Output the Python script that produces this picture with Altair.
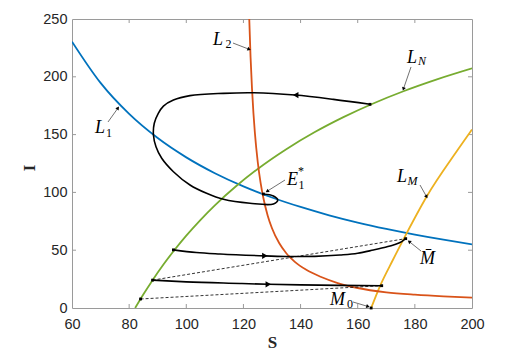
import math
import pandas as pd
import altair as alt

# ---------------- data ----------------
x_ticks = [60, 80, 100, 120, 140, 160, 180, 200]
y_ticks = [0, 50, 100, 150, 200, 250]
x_inner = [80, 100, 120, 140, 160, 180]
y_inner = [50, 100, 150, 200]

# L1 (blue)
L1_S = [60, 70, 80, 90, 100, 110, 120, 130, 140, 150, 160, 170, 180, 190, 200]
L1_I = [230.4, 194.7, 167.9, 147.0, 130.3, 116.6, 105.2, 95.6, 87.4, 80.2, 73.9, 68.4, 63.5, 59.1, 55.1]
# L2 (red-orange)
L2_S = [122.0, 122.5, 123.0, 123.5, 124.0, 125.0, 126.0, 127.0, 128.5, 130.0, 132.5, 135.0, 138.0,
        142.0, 147.0, 153.0, 160.0, 170.0, 180.0, 190.0, 200.0]
L2_I = [253.0, 216.9, 189.8, 168.7, 151.8, 126.5, 108.4, 94.9, 79.9, 69.0, 56.2, 47.4, 39.9,
        33.0, 27.0, 21.6, 17.3, 13.6, 11.5, 10.0, 8.9]
# L_N (green)
LN_S = [82.1, 85, 88.2, 92, 96, 100, 105, 110, 117.6, 125, 135, 145, 155, 165, 176, 188, 200]
LN_I = [0, 11.9, 24.1, 37.6, 50.6, 62.6, 76.3, 88.8, 105.7, 120.3, 137.4, 152.2, 165.1, 176.5, 187.5, 198.0, 207.3]
# L_M (yellow)
LM_S = [164.7, 167.8, 172.3, 177.1, 184.1, 195.2, 200]
LM_I = [0, 19, 41.5, 64.6, 96.3, 137.5, 154.5]

# spiral trajectory towards E1*
loop_S = [164.3, 151.5, 138.05, 123.5, 113.0, 101.3, 95.5, 92.0, 90.2, 88.8, 88.5, 89.4, 91.4, 95.5,
          101.3, 107.1, 113.0, 122.3, 130.5, 132.0, 130.5, 127.0]
loop_I = [176.2, 180.5, 184.2, 186.2, 185.7, 183.7, 179.9, 174.7, 168.4, 159.8, 149.6, 139.5, 129.5, 117.9,
          106.4, 99.2, 94.0, 90.6, 90.0, 93.4, 96.9, 98.6]
# upper impulsive trajectory
trA_S = [95.5, 103.5, 111.8, 127.5, 136.3, 145, 153.8, 160, 165.5, 170, 172.5, 175.4, 176.8]
trA_I = [50.3, 48.0, 46.7, 45.1, 44.5, 44.7, 45.8, 47.3, 50.2, 52.8, 54.5, 57.4, 60]
# lower impulsive trajectory
trB_S = [88.2, 100, 118.8, 128.7, 140, 153.8, 168.4]
trB_I = [24.1, 22.6, 21.2, 20.5, 20, 19.6, 19.3]
# dashed jumps
dash_S = [176.8, 88.2, 168.4, 84.0]
dash_I = [60, 24.1, 19.3, 7.8]
dash_seg = ["a", "a", "b", "b"]

# marked points
pt_S = [164.3, 127.0, 95.5, 88.2, 84.0, 176.8, 168.4, 164.7]
pt_I = [176.2, 98.6, 50.3, 24.1, 7.8, 60, 19.3, 0]

# direction arrowheads on trajectories
dir_S = [138.3, 127.5, 128.7]
dir_I = [184.2, 45.1, 20.5]
dir_D = ["left", "right", "right"]

# annotation arrows (from -> tip)
ann_S1 = [72.6, 116.35, 178.65, 134.55, 181.8, 182.15, 158.35]
ann_I1 = [160.9, 229.2, 208.5, 110.7, 106.4, 49.3, 5.2]
ann_S2 = [76.1, 122.0, 176.0, 128.3, 184.1, 178.0, 163.6]
ann_I2 = [173.0, 223.8, 189.5, 101.0, 96.3, 57.5, 1.3]

# label texts
main_txt = ["L", "L", "L", "E", "L", "M\u0304", "M"]
main_S = [68.05, 109.35, 177.25, 135.25, 173.75, 181.8, 150.3]
main_I = [151.4, 227.5, 211.9, 106.4, 109.0, 38.1, 2.6]
subu_txt = ["1", "2", "1", "*", "0"]
subu_S = [71.9, 113.7, 139.3, 139.1, 156.25]
subu_I = [147.9, 225.3, 103.2, 114.8, 0.0]
subi_txt = ["N", "M"]
subi_S = [181.1, 177.4]
subi_I = [210.2, 106.4]

# ---------------- chart ----------------
W, H = 400, 289
SCALE_X = alt.Scale(domain=[60, 200], nice=False, zero=False)
SCALE_Y = alt.Scale(domain=[0, 250], nice=False, zero=False)
AX_COL = "#262626"
XA = alt.Axis(values=x_ticks, tickSize=0, domain=False, grid=False, labelFlush=False,
              labelFont="Liberation Sans", labelFontSize=14.5, labelColor=AX_COL, labelPadding=9,
              titleFont="Liberation Serif", titleFontWeight="bold", titleFontSize=17,
              titleColor=AX_COL, titleX=W / 2, titleY=34, titleBaseline="middle")
YA = alt.Axis(values=y_ticks, tickSize=0, domain=False, grid=False, labelFlush=False,
              labelFont="Liberation Sans", labelFontSize=14.5, labelColor=AX_COL, labelPadding=5,
              titleFont="Liberation Serif", titleFontWeight="bold", titleFontSize=17,
              titleColor=AX_COL, titleX=-43, titleY=H / 2 + 4, titleBaseline="middle",
              titleAlign="center", titleAngle=270)


def X(f="S"):
    return alt.X(f"{f}:Q", scale=SCALE_X, axis=XA, title="S")


def Y(f="I"):
    return alt.Y(f"{f}:Q", scale=SCALE_Y, axis=YA, title="I")


def df_xy(S, I):
    return pd.DataFrame({"S": S, "I": I, "o": list(range(len(S)))})


TICK_COL = "#9a9a9a"
xt = pd.DataFrame({"S": x_inner})
yt = pd.DataFrame({"I": y_inner})
ticks = alt.layer(
    alt.Chart(xt).mark_rule(color=TICK_COL, strokeWidth=1).encode(x=X(), y=alt.value(H), y2=alt.value(H - 4)),
    alt.Chart(xt).mark_rule(color=TICK_COL, strokeWidth=1).encode(x=X(), y=alt.value(0), y2=alt.value(4)),
    alt.Chart(yt).mark_rule(color=TICK_COL, strokeWidth=1).encode(y=Y(), x=alt.value(0), x2=alt.value(4)),
    alt.Chart(yt).mark_rule(color=TICK_COL, strokeWidth=1).encode(y=Y(), x=alt.value(W), x2=alt.value(W - 4)),
)


def curve(S, I, color):
    return alt.Chart(df_xy(S, I)).mark_line(color=color, strokeWidth=1.8, interpolate="monotone", clip=True).encode(
        x=X(), y=Y(), order="o:Q")


curves = alt.layer(
    curve(L1_S, L1_I, "#0072BD"),
    curve(LN_S, LN_I, "#77AC30"),
    curve(LM_S, LM_I, "#EDB120"),
    curve(L2_S, L2_I, "#D95319"),
)

dash_df = pd.DataFrame({"S": dash_S, "I": dash_I, "seg": dash_seg})
dashed = alt.Chart(dash_df).mark_line(color="black", strokeWidth=0.8, strokeDash=[3, 2]).encode(
    x=X(), y=Y(), detail="seg:N")

traj = alt.layer(
    alt.Chart(df_xy(loop_S, loop_I)).mark_line(color="black", strokeWidth=1.6, interpolate="catmull-rom").encode(
        x=X(), y=Y(), order="o:Q"),
    alt.Chart(df_xy(trA_S, trA_I)).mark_line(color="black", strokeWidth=1.6, interpolate="monotone").encode(
        x=X(), y=Y(), order="o:Q"),
    alt.Chart(df_xy(trB_S, trB_I)).mark_line(color="black", strokeWidth=1.6, interpolate="monotone").encode(
        x=X(), y=Y(), order="o:Q"),
)

dots = alt.Chart(df_xy(pt_S, pt_I)).mark_point(shape="square", filled=True, size=8, color="black", opacity=1).encode(
    x=X(), y=Y())

dir_df = pd.DataFrame({"S": dir_S, "I": dir_I, "d": dir_D})
dir_heads = alt.Chart(dir_df).mark_point(filled=True, size=40, color="black", opacity=1).encode(
    x=X(), y=Y(),
    shape=alt.Shape("d:N", scale=alt.Scale(domain=["left", "right"], range=["triangle-left", "triangle-right"]),
                    legend=None))

# annotation arrows
ann = pd.DataFrame({"S": ann_S1, "I": ann_I1, "S2": ann_S2, "I2": ann_I2})
px_x = W / 140.0
px_y = H / 250.0
ann["ang"] = [
    math.degrees(math.atan2((s2 - s1) * px_x, (i2 - i1) * px_y)) % 360
    for s1, i1, s2, i2 in zip(ann_S1, ann_I1, ann_S2, ann_I2)
]
ann_lines = alt.Chart(ann).mark_rule(color="#333333", strokeWidth=0.7).encode(
    x=X(), y=Y(), x2="S2:Q", y2="I2:Q")
ann_heads = alt.Chart(ann).mark_point(shape="triangle-up", filled=True, size=16, color="black", opacity=1).encode(
    x=X("S2"), y=Y("I2"), angle=alt.Angle("ang:Q", scale=None))

main_df = pd.DataFrame({"S": main_S, "I": main_I, "t": main_txt})
subu_df = pd.DataFrame({"S": subu_S, "I": subu_I, "t": subu_txt})
subi_df = pd.DataFrame({"S": subi_S, "I": subi_I, "t": subi_txt})
txt_main = alt.Chart(main_df).mark_text(font="Liberation Serif", fontStyle="italic", fontSize=18, align="left",
                                        baseline="alphabetic", color="black").encode(x=X(), y=Y(), text="t:N")
txt_subu = alt.Chart(subu_df).mark_text(font="Liberation Serif", fontSize=12, align="left",
                                        baseline="alphabetic", color="black").encode(x=X(), y=Y(), text="t:N")
txt_subi = alt.Chart(subi_df).mark_text(font="Liberation Serif", fontStyle="italic", fontSize=12, align="left",
                                        baseline="alphabetic", color="black").encode(x=X(), y=Y(), text="t:N")

chart = alt.layer(
    ticks, curves, dashed, traj, dots, dir_heads, ann_lines, ann_heads, txt_main, txt_subu, txt_subi
).properties(
    width=W, height=H,
    autosize=alt.AutoSizeParams(type="none"),
    padding={"left": 64, "top": 11, "right": 43, "bottom": 42},
    background="white",
).configure_view(stroke=TICK_COL, strokeWidth=1)

chart.save("out.html", embed_options={"renderer": "svg", "actions": False})
